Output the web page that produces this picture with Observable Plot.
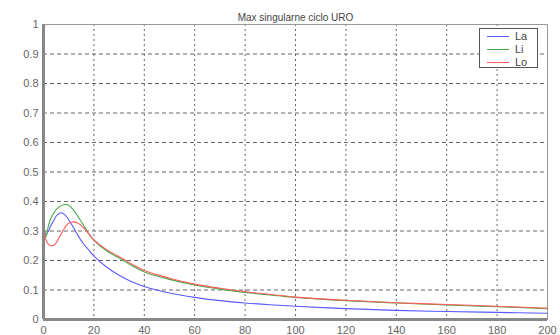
<!DOCTYPE html>
<html><head><meta charset="utf-8">
<script src="https://cdn.jsdelivr.net/npm/d3@7"></script>
<script src="https://cdn.jsdelivr.net/npm/@observablehq/plot@0.6"></script>
<style>
body{margin:0;background:#fff}
#wrap{position:relative;width:560px;height:335px;overflow:hidden}
#legend{position:absolute;left:479px;top:28px;width:59px;height:40px;border:1px solid #555;background:#fff;font:11px "Liberation Sans",Arial,sans-serif;color:#444;box-sizing:border-box}
.row{position:absolute;left:0;height:13px;width:100%}
.row span.l{position:absolute;left:7px;top:6px;width:22px;height:1px}
.row span.t{position:absolute;left:35px;top:0;line-height:13px}
</style>
</head><body><div id="wrap"></div>
<script>
const xs = [0,1,2,3,4,5,6,7,8,9,10,12,14,16,18,20,25,30,35,40,50,60,70,80,90,100,120,140,160,180,200];
const la = [0.31,0.29,0.30,0.32,0.335,0.35,0.358,0.362,0.358,0.35,0.338,0.31,0.28,0.255,0.235,0.215,0.178,0.15,0.128,0.112,0.09,0.075,0.064,0.056,0.05,0.045,0.037,0.031,0.027,0.024,0.021];
const li = [0.33,0.28,0.32,0.345,0.36,0.372,0.38,0.386,0.389,0.39,0.387,0.37,0.345,0.318,0.29,0.268,0.233,0.208,0.183,0.161,0.136,0.117,0.103,0.092,0.083,0.075,0.064,0.056,0.049,0.043,0.037];
const lo = [0.36,0.27,0.255,0.25,0.252,0.26,0.275,0.29,0.305,0.318,0.326,0.331,0.325,0.31,0.29,0.27,0.237,0.213,0.188,0.166,0.14,0.12,0.106,0.094,0.085,0.076,0.065,0.057,0.051,0.045,0.038];
const seriesNames = ["La","Li","Lo"];
const seriesColors = ["#5a5aff","#45a845","#ff5a5a"];
const xTicks = [0,20,40,60,80,100,120,140,160,180,200];
const yTicks = [0,0.1,0.2,0.3,0.4,0.5,0.6,0.7,0.8,0.9,1];
const yTickLabels = ["0","0.1","0.2","0.3","0.4","0.5","0.6","0.7","0.8","0.9","1"];
const title = "Max singularne ciclo URO";

const data = [];
[la,li,lo].forEach((arr,k)=>arr.forEach((v,i)=>data.push({x:xs[i],y:v,s:seriesNames[k]})));

const plot = Plot.plot({
  width:560, height:335,
  marginLeft:43, marginRight:13, marginTop:24, marginBottom:16,
  style:{fontFamily:"Liberation Sans, Arial, sans-serif",fontSize:"11px",color:"#555",background:"#fff",overflow:"visible"},
  x:{domain:[0,200], label:null},
  y:{domain:[0,1], label:null},
  color:{domain:seriesNames,range:seriesColors},
  marks:[
    Plot.gridX(xTicks,{stroke:"#333",strokeOpacity:0.75,strokeDasharray:"2,3"}),
    Plot.gridY(yTicks,{stroke:"#333",strokeOpacity:0.75,strokeDasharray:"4,3"}),
    Plot.frame({stroke:"#999"}),
    Plot.line(data,{x:"x",y:"y",z:"s",stroke:"s",strokeWidth:1.1,curve:"catmull-rom"}),
    Plot.axisX(xTicks,{tickSize:0,tickPadding:7,fill:"#666",fontSize:11,label:null,tickFormat:d=>String(d)}),
    Plot.axisY(yTicks,{tickSize:0,tickPadding:5,fill:"#666",fontSize:11,label:null,tickFormat:(d,i)=>yTickLabels[i]}),
    Plot.ruleX([0],{stroke:"#888",strokeWidth:3}),
    Plot.ruleY([0],{stroke:"#888",strokeWidth:3}),
    Plot.text([title],{frameAnchor:"top",dy:-11,fontSize:10,fill:"#444"})
  ]
});
const wrap = document.getElementById("wrap");
wrap.appendChild(plot);
const lg = document.createElement("div");
lg.id = "legend";
seriesNames.forEach((n,i)=>{
  const r = document.createElement("div");
  r.className = "row";
  r.style.top = (1 + i*13) + "px";
  r.innerHTML = `<span class="l" style="background:${seriesColors[i]}"></span><span class="t">${n}</span>`;
  lg.appendChild(r);
});
wrap.appendChild(lg);
</script>
</body></html>
